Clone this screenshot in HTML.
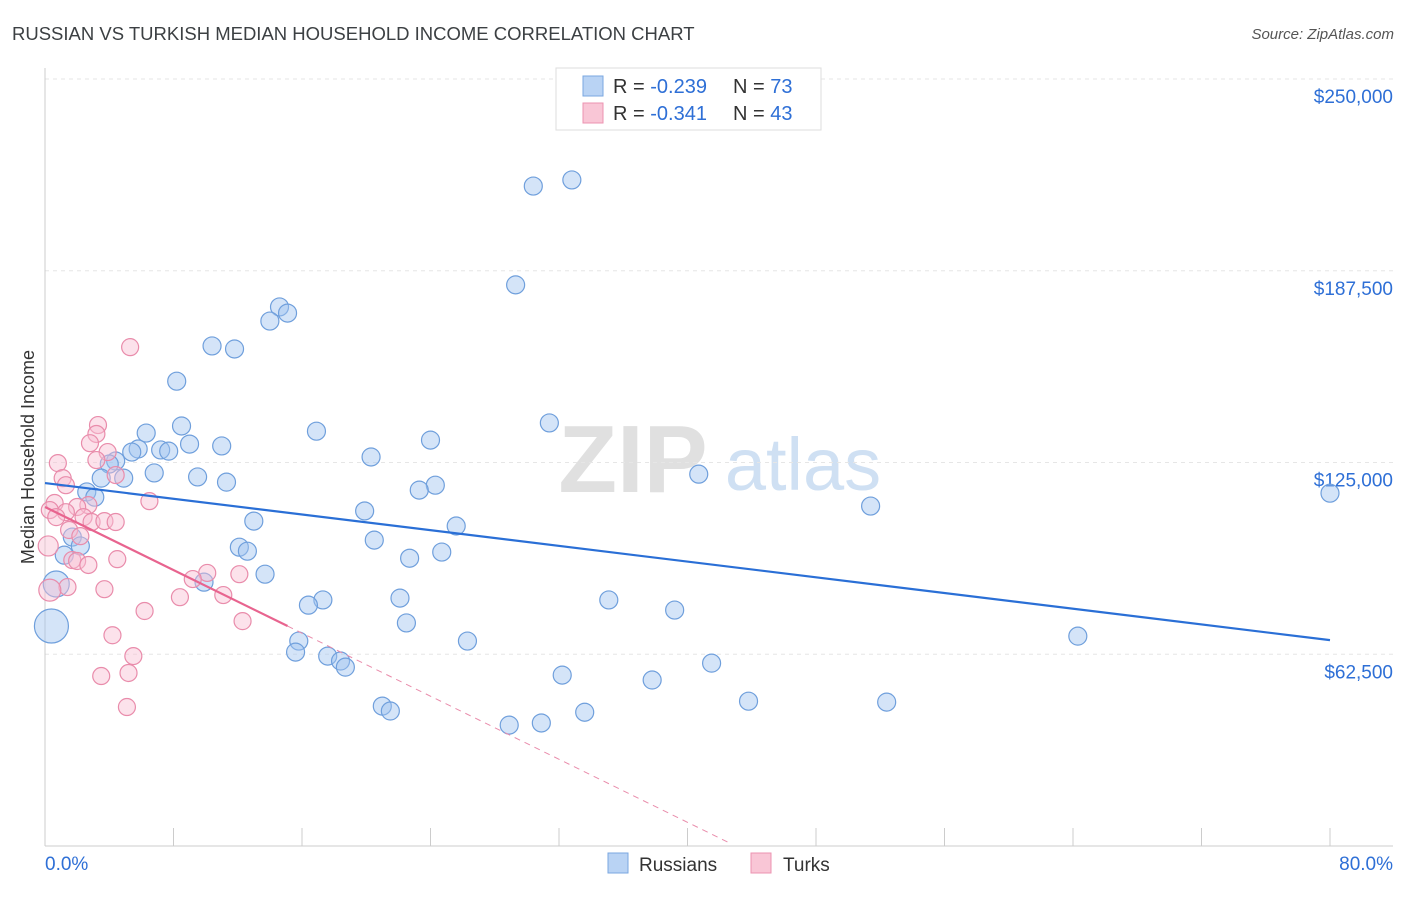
<!DOCTYPE html>
<html><head><meta charset="utf-8"><style>
body{margin:0;background:#fff;font-family:"Liberation Sans",sans-serif;}
svg text{font-family:"Liberation Sans",sans-serif;}
</style></head><body>
<svg width="1406" height="892" viewBox="0 0 1406 892">
<text x="12" y="40" font-size="18.5" fill="#3c4043">RUSSIAN VS TURKISH MEDIAN HOUSEHOLD INCOME CORRELATION CHART</text>
<text x="1394" y="39" font-size="15" fill="#555" font-style="italic" text-anchor="end">Source: ZipAtlas.com</text>
<text transform="translate(34,457) rotate(-90)" font-size="18" fill="#333" text-anchor="middle">Median Household Income</text>
<g><text x="633" y="492" font-size="96" fill="#e0e0e0" text-anchor="middle" font-family="Liberation Serif" font-weight="bold">ZIP</text><text x="803" y="490" font-size="74" fill="#cfe0f3" text-anchor="middle">atlas</text></g>
<g id="grid"></g><g id="axes"></g><g id="marks"></g>
<g>
<rect x="556" y="68" width="265" height="62" fill="#fff" stroke="#ddd"/>
<rect x="583" y="76" width="20" height="20" fill="#b9d3f4" stroke="#7aa7e0"/>
<rect x="583" y="103" width="20" height="20" fill="#f9c6d6" stroke="#ec93b0"/>
<text x="613" y="93" font-size="20" fill="#333">R = <tspan fill="#2e6fd6">-0.239</tspan><tspan x="733">N = </tspan><tspan fill="#2e6fd6">73</tspan></text>
<text x="613" y="120" font-size="20" fill="#333">R = <tspan fill="#2e6fd6"> -0.341</tspan><tspan x="733">N = </tspan><tspan fill="#2e6fd6">43</tspan></text>
</g>
<g>
<rect x="608" y="853" width="20" height="20" fill="#b9d3f4" stroke="#7aa7e0"/>
<text x="639" y="871" font-size="19" fill="#333">Russians</text>
<rect x="751" y="853" width="20" height="20" fill="#f9c6d6" stroke="#ec93b0"/>
<text x="783" y="871" font-size="19" fill="#333">Turks</text>
</g>
</svg>
<script>
const yTicks=[62500,125000,187500,250000];
const yTickLabels=["$62,500","$125,000","$187,500","$250,000"];
const xTickLabels=["0.0%","80.0%"];
const rusX=[30.4,32.8,29.3,14.6,15.1,14.0,10.4,11.8,8.2,31.4,8.5,16.9,6.3,24.0,5.8,5.4,7.2,7.7,9.0,11.0,20.3,4.4,4.0,4.9,6.8,9.5,11.3,40.7,24.3,23.3,2.6,3.1,3.5,80.0,51.4,19.9,13.0,25.6,1.7,2.2,1.2,12.1,12.6,20.5,22.7,24.7,13.7,9.9,22.1,17.3,16.4,35.1,39.2,22.5,64.3,15.8,26.3,15.6,17.6,18.4,18.7,41.5,32.2,37.8,43.8,52.4,21.0,21.5,33.6,28.9,30.9,0.7,0.4];
const rusY=[215.1,217.1,182.9,175.7,173.7,171.1,163.0,162.0,151.5,137.9,136.9,135.2,134.6,132.3,129.4,128.4,129.1,128.7,131.0,130.4,126.8,125.5,124.5,119.9,121.6,120.3,118.6,121.2,117.6,116.0,115.4,113.7,119.9,115.0,110.8,109.2,105.9,104.3,100.7,97.8,94.8,97.4,96.1,99.7,93.8,95.8,88.6,86.0,80.8,80.2,78.5,80.2,76.9,72.7,68.4,66.8,66.8,63.2,61.9,60.3,58.3,59.6,55.7,54.1,47.2,46.9,45.6,44.0,43.6,39.4,40.1,85.4,71.7];
const turX=[5.3,3.3,3.2,2.8,3.9,3.2,0.8,1.1,4.4,1.3,6.5,0.6,2.7,2.0,0.3,1.3,0.7,2.4,2.9,3.7,4.4,1.5,2.2,0.2,1.7,2.0,2.7,4.5,10.1,9.2,12.1,1.4,3.7,8.4,11.1,0.3,6.2,12.3,4.2,5.5,3.5,5.2,5.1];
const turY=[162.6,137.2,134.3,131.3,128.4,125.8,124.8,119.9,120.9,117.6,112.4,111.8,111.1,110.5,109.5,108.8,107.2,107.2,105.6,105.9,105.6,103.0,101.0,97.8,93.2,92.9,91.6,93.5,89.0,87.0,88.6,84.4,83.7,81.1,81.8,83.4,76.6,73.3,68.7,61.9,55.4,56.4,45.3];
const rusTrend=[118.3,67.1];
const turTrend=[110.5,71.7,15.1,42.5];
const NS="http://www.w3.org/2000/svg";
const X=p=>45+p*16.0625;
const Y=v=>846-v/62500*191.75;
const Yk=k=>Y(k*1000);
function mk(t,a,parent){const e=document.createElementNS(NS,t);for(const k in a)e.setAttribute(k,a[k]);document.getElementById(parent).appendChild(e);return e;}
yTicks.forEach((v,i)=>{
 const g=mk('line',{x1:45,x2:1393,y1:Y(v),y2:Y(v),stroke:'#e6e6e6','stroke-dasharray':'4,4'},'grid');
 
 
 const t=mk('text',{x:1393,y:Y(v)+24,'font-size':19,fill:'#2e6fd6','text-anchor':'end'},'axes');
 t.textContent=yTickLabels[i];
 
 
});
const ax=mk('line',{x1:45,x2:45,y1:68,y2:846,stroke:'#ccc'},'axes');


const bx=mk('line',{x1:45,x2:1393,y1:846,y2:846,stroke:'#ccc'},'axes');


for(let i=1;i<=10;i++){const l=mk('line',{x1:X(i*8),x2:X(i*8),y1:828,y2:846,stroke:'#ccc'},'axes');
 
 }
[[0,'start',45],[80,'end',1393]].forEach((d,i)=>{const t=mk('text',{x:d[2],y:870,'font-size':19,fill:'#2e6fd6','text-anchor':d[1]},'axes');t.textContent=xTickLabels[i];
 
 });
rusX.forEach((x,i)=>{const r=i>=71?(i==72?17:13):9;
 const c=mk('circle',{cx:X(x),cy:Yk(rusY[i]),r:r,fill:'rgba(160,195,240,0.45)',stroke:'#6f9fdc','stroke-width':1.2},'marks');
 
 });
turX.forEach((x,i)=>{const r=i==35?11:(i==23?10:8.5);
 const c=mk('circle',{cx:X(x),cy:Yk(turY[i]),r:r,fill:'rgba(248,190,210,0.45)',stroke:'#e98cab','stroke-width':1.2},'marks');
 
 });
const bl=mk('line',{x1:X(0),y1:Yk(rusTrend[0]),x2:X(80),y2:Yk(rusTrend[1]),stroke:'#2a6fd6','stroke-width':2.2},'marks');


const slope=(turTrend[1]-turTrend[0])/turTrend[2];
const pd=mk('line',{x1:X(turTrend[2]),y1:Yk(turTrend[1]),x2:X(turTrend[3]),y2:Yk(turTrend[0]+slope*turTrend[3]),stroke:'#e98cab','stroke-width':1,'stroke-dasharray':'6,5'},'marks');


const pl=mk('line',{x1:X(0),y1:Yk(turTrend[0]),x2:X(turTrend[2]),y2:Yk(turTrend[1]),stroke:'#e8648f','stroke-width':2.2},'marks');


</script>
</body></html>
